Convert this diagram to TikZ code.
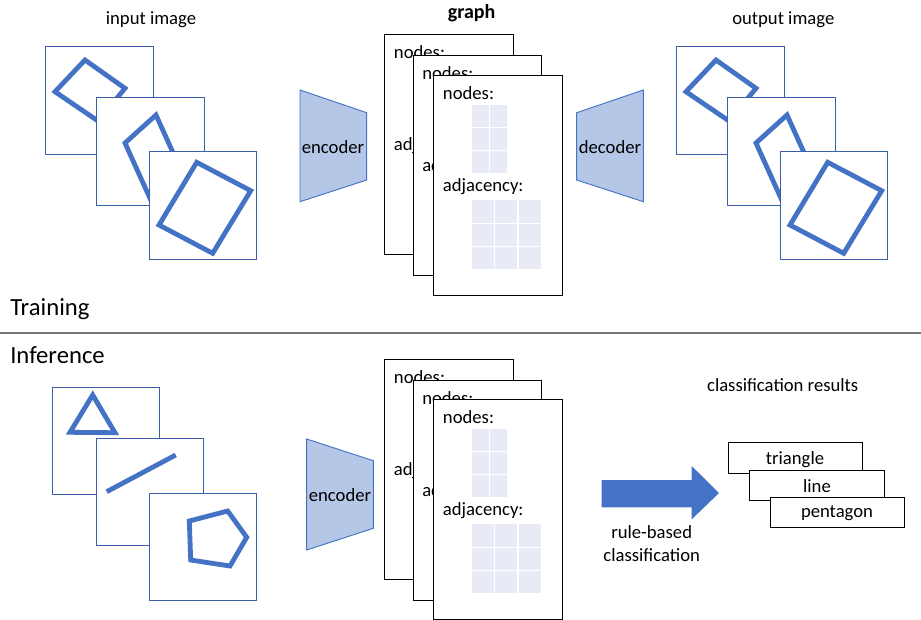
\documentclass[tikz,border=0pt]{standalone}
\usepackage{fontspec}
\setmainfont{Carlito}
\definecolor{shapeblue}{HTML}{4472C4}
\definecolor{framec}{HTML}{3B5FA8}
\definecolor{trapfill}{HTML}{B4C7E7}
\definecolor{cellc}{HTML}{E8EBF5}
\definecolor{sepc}{HTML}{767676}
\tikzset{
  shp/.style={draw=shapeblue, line width=3.6pt, line join=miter},
  imgframe/.style={draw=framec, line width=0.85pt, fill=white, minimum width=80.4pt, minimum height=80.4pt, inner sep=0pt},
  card/.style={draw=black, line width=0.75pt, fill=white, minimum width=96.4pt, minimum height=164.5pt, inner sep=0pt},
  trap/.style={draw=shapeblue, line width=0.7pt, fill=trapfill},
  lbl/.style={inner sep=0pt},
  resbox/.style={draw=black, line width=0.75pt, fill=white, minimum width=100.8pt, minimum height=23pt, inner sep=0pt},
}
\newcommand{\graphcard}[3]{%
  \begin{scope}[shift={(#2,#3)}]
    \node[card] (#1) at (64.25,109.65) {};
    \node[lbl, anchor=west] (#1n) at (8.7,17) {nodes:};
    \fill[cellc] (37.7,29) rectangle (72.7,96.7);
    \draw[white, line width=0.9pt] (55.2,29) -- (55.2,96.7) (37.7,51.6) -- (72.7,51.6) (37.7,74.1) -- (72.7,74.1);
    \node[lbl, anchor=west] (#1a) at (8.7,110.7) {adjacency:};
    \fill[cellc] (37.7,124) rectangle (107,193.3);
    \draw[white, line width=0.9pt] (60.8,124) -- (60.8,193.3) (83.9,124) -- (83.9,193.3) (37.7,147.1) -- (107,147.1) (37.7,170.2) -- (107,170.2);
  \end{scope}}
\newcommand{\rectstack}[2]{%
  \begin{scope}[shift={(#2,0)}]
    \node[imgframe] (#1a) at (99.5,100.5) {};
    \draw[shp] (85,60) -- (125,88.3) -- (98,121) -- (55,91.7) -- cycle;
    \node[imgframe] (#1b) at (150.5,151.5) {};
    \draw[shp] (156,115) -- (184,177) -- (153,205) -- (125,143) -- cycle;
    \node[imgframe] (#1c) at (203,205.5) {};
    \draw[shp] (196.7,162.3) -- (250.7,190.7) -- (212.7,253.3) -- (159,225) -- cycle;
  \end{scope}}
\begin{document}
\begin{tikzpicture}[x=0.75pt, y=-0.75pt, font=\fontsize{14}{17}\selectfont]
\useasboundingbox (0,0) rectangle (921,619);
\clip (0,0) rectangle (921,619);

% ---------- Training ----------
\node[lbl] (tin) at (151,20) {input image};
\rectstack{in}{0}

\draw[trap] (300,90) -- (366.7,112.7) -- (366.7,180) -- (300,201.7) -- cycle;
\node[lbl] (enc1) at (333,147) {encoder};

\node[lbl, font=\fontsize{15}{18}\selectfont\bfseries] (tgraph) at (471.7,13.5) {graph};
\graphcard{ca}{385}{35}
\graphcard{cb}{413.3}{56}
\graphcard{cc}{434}{76}

\draw[trap] (576.7,112.7) -- (643.3,90) -- (643.3,201.7) -- (576.7,180) -- cycle;
\node[lbl] (dec) at (610,147) {decoder};

\node[lbl] (tout) at (783.3,20) {output image};
\rectstack{out}{631}

\node[lbl, anchor=west, font=\fontsize{18.5}{21}\selectfont] (train) at (10,309) {Training};
\coordinate (sepl) at (0,333);
\coordinate (sepr) at (921,333);
\draw[sepc, line width=1.1pt] (sepl) -- (sepr);
\node[lbl, anchor=west, font=\fontsize{18.5}{21}\selectfont] (infer) at (10,355) {Inference};

% ---------- Inference ----------
\node[imgframe] (ia) at (106,441) {};
\draw[shp] (92.7,395) -- (115,432.7) -- (70,432.3) -- cycle;
\node[imgframe] (ib) at (150.2,491.8) {};
\draw[shp] (106.7,491.7) -- (175.7,455);
\node[imgframe] (ic) at (203.3,547.3) {};
\draw[shp] (189.3,521) -- (227.7,511) -- (246.7,537.3) -- (230,566) -- (190.7,560) -- cycle;

\draw[trap] (306.7,439) -- (373.3,460.7) -- (373.3,528.3) -- (306.7,550) -- cycle;
\node[lbl] (enc2) at (340,495) {encoder};

\graphcard{ia1}{385}{360}
\graphcard{ib1}{413.3}{380.7}
\graphcard{ic1}{434}{400}

\fill[shapeblue] (601.7,480) -- (691.7,480) -- (691.7,466) -- (719,493) -- (691.7,519.3) -- (691.7,507.3) -- (601.7,507.3) -- cycle;
\node[lbl, align=center, font=\fontsize{14}{17.5}\selectfont] (rule) at (651.7,543.3) {rule-based\\classification};

\node[lbl] (cres) at (782.7,385) {classification results};
\node[resbox] (rt) at (795.5,458) {};
\node[lbl] (rtt) at (795,460) {triangle};
\node[resbox] (rl) at (817,485.5) {};
\node[lbl] (rlt) at (817,486) {line};
\node[resbox] (rp) at (837.2,512.5) {};
\node[lbl] (rpt) at (837,513) {pentagon};
\end{tikzpicture}
\end{document}
